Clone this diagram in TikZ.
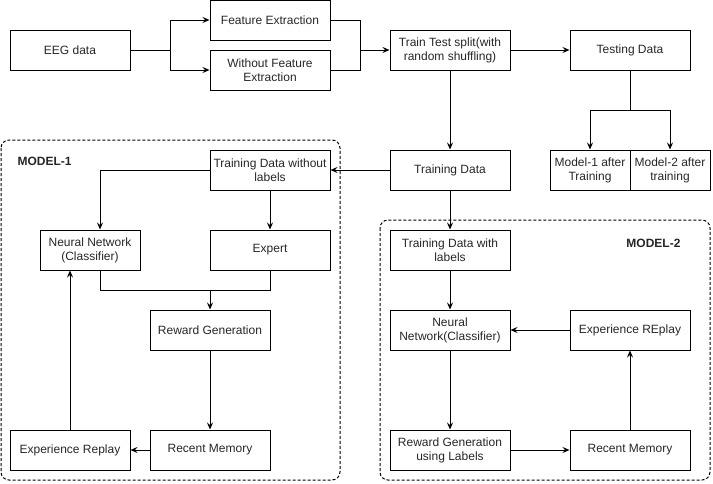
\documentclass[tikz,border=0pt]{standalone}
\usepackage{fontspec}
\setmainfont{Liberation Sans}
\usetikzlibrary{arrows.meta,calc}
\begin{document}
\begin{tikzpicture}[x=1pt,y=-1pt,
  font=\fontsize{12}{14}\selectfont,
  box/.style={draw, line width=1pt, minimum width=120pt, minimum height=40pt,
    inner sep=2pt, align=center, text=black!85},
  smallbox/.style={box, minimum width=80pt},
  arr/.style={-{Stealth[length=7pt,width=6pt,inset=2.5pt]}, line width=1pt},
  ln/.style={line width=1pt},
  group/.style={draw, dash pattern=on 3pt off 2pt, line width=1pt, rounded corners=8pt},
  title/.style={font=\fontsize{12}{14}\selectfont\bfseries, text=black!85}]
\useasboundingbox (0,0) rectangle (713,483);

% model containers
\draw[group] (1,140) rectangle (340,480);
\draw[group] (380,220) rectangle (710,480);
\node[title, anchor=west] (t1) at (14,161) {MODEL-1};
\node[title, anchor=east] (t2) at (684,243) {MODEL-2};

% data preparation
\node[box] (eeg) at (70,50) {EEG data};
\node[box] (fe) at (270,20) {Feature Extraction};
\node[box] (wfe) at (270,70) {Without Feature\\Extraction};
\node[box] (tts) at (450,50) {Train Test split(with\\random shuffling)};
\node[box] (test) at (630,50) {Testing Data};
\node[smallbox] (m1) at (590,170) {Model-1 after\\Training};
\node[smallbox] (m2) at (670,170) {Model-2 after\\training};
\node[box] (train) at (450,170) {Training Data};

% model 1
\node[box] (tdwl) at (270,170) {Training Data without\\labels};
\node[box, minimum width=100pt] (nn1) at (90,250) {Neural Network\\(Classifier)};
\node[box] (expert) at (270,250) {Expert};
\node[box] (rg1) at (210,330) {Reward Generation};
\node[box] (rm1) at (210,450) {Recent Memory};
\node[box] (er1) at (70,450) {Experience Replay};

% model 2
\node[box] (tdl) at (450,250) {Training Data with\\labels};
\node[box] (nn2) at (450,330) {Neural\\Network(Classifier)};
\node[box] (er2) at (630,330) {Experience REplay};
\node[box] (rg2) at (450,450) {Reward Generation\\using Labels};
\node[box] (rm2) at (630,450) {Recent Memory};

% junction points
\coordinate (split) at (170,50);
\coordinate (join) at (360,50);
\coordinate (fork) at (630,110);
\coordinate (merge) at (210,290);

% preparation connectors
\draw[ln] (eeg.east) -- (split);
\draw[arr] (split) |- (fe.west);
\draw[arr] (split) |- (wfe.west);
\draw[ln] (fe.east) -| (join);
\draw[ln] (wfe.east) -| (join);
\draw[arr] (join) -- (tts.west);
\draw[arr] (tts.east) -- (test.west);
\draw[ln] (test.south) -- (fork);
\draw[arr] (fork) -| (m1.north);
\draw[arr] (fork) -| (m2.north);
\draw[arr] (tts.south) -- (train.north);
\draw[arr] (train.west) -- (tdwl.east);
\draw[arr] (train.south) -- (tdl.north);

% model 1 connectors
\draw[arr] (tdwl.west) -| ([xshift=10pt]nn1.north);
\draw[arr] (tdwl.south) -- (expert.north);
\draw[ln] ([xshift=10pt]nn1.south) |- (merge);
\draw[ln] (expert.south) |- (merge);
\draw[arr] (merge) -- (rg1.north);
\draw[arr] (rg1.south) -- (rm1.north);
\draw[arr] (rm1.west) -- (er1.east);
\draw[arr] (er1.north) -- (er1.north |- nn1.south);

% model 2 connectors
\draw[arr] (tdl.south) -- (nn2.north);
\draw[arr] (nn2.south) -- (rg2.north);
\draw[arr] (rg2.east) -- (rm2.west);
\draw[arr] (rm2.north) -- (er2.south);
\draw[arr] (er2.west) -- (nn2.east);
\end{tikzpicture}
\end{document}
